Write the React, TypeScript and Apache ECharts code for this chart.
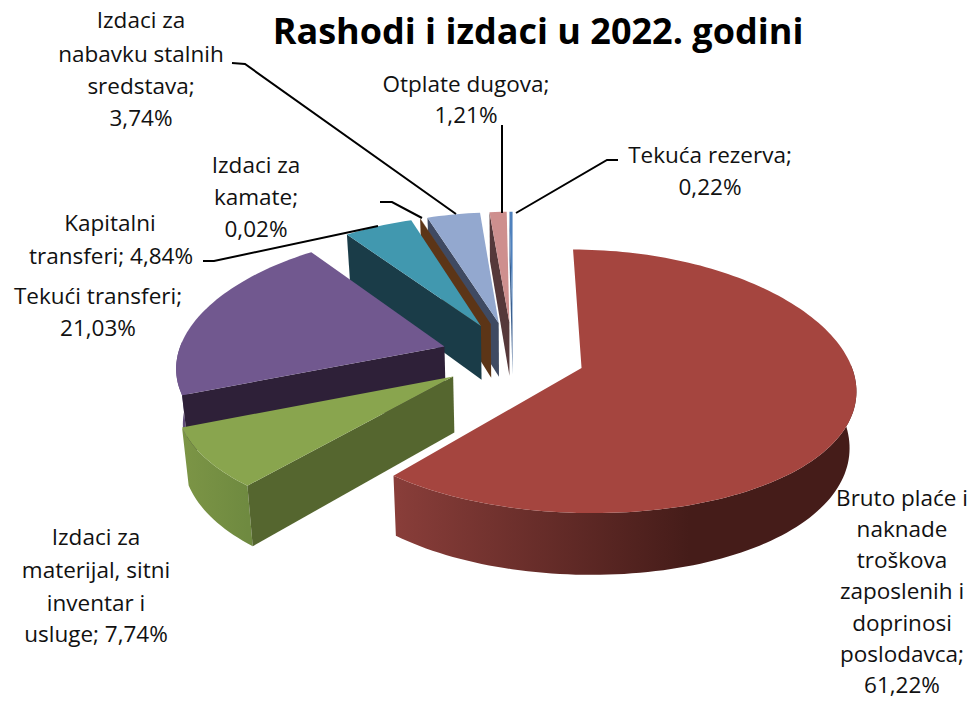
import React, { useEffect, useRef } from "react";
import * as echarts from "echarts";

const titleText = "Rashodi i izdaci u 2022. godini";
const categories = [
  "Bruto plaće i naknade troškova zaposlenih i doprinosi poslodavca",
  "Izdaci za materijal, sitni inventar i usluge",
  "Tekući transferi",
  "Kapitalni transferi",
  "Izdaci za kamate",
  "Izdaci za nabavku stalnih sredstava",
  "Otplate dugova",
  "Tekuća rezerva",
];
const values = [61.22, 7.74, 21.03, 4.84, 0.02, 3.74, 1.21, 0.22];
const topColors = ["#A5453F", "#89A54E", "#71588F", "#4198AF", "#6B3F1A", "#93A8CF", "#CE8F8E", "#4F81BD"];
const cutColors = ["#5A2320", "#55662F", "#2E2038", "#1A3C48", "#5C3517", "#3F4A62", "#55383A", "#3A5F8F"];
const sideFrom = ["#8A3E3A", "#7C9546", "#66507F", "#2F6E80", "#5C3517", "#6C7A9A", "#96696A", "#3A5F8F"];
const sideTo = ["#451C19", "#6F8A40", "#5E4A78", "#245866", "#5C3517", "#5A6785", "#80585A", "#3A5F8F"];
const labelLines: [string, number, number][][] = [
  [["Bruto plaće i", 902, 497], ["naknade", 902, 528], ["troškova", 902, 559], ["zaposlenih i", 902, 590], ["doprinosi", 902, 622], ["poslodavca;", 902, 653], ["61,22%", 902, 684]],
  [["Izdaci za", 96, 536], ["materijal, sitni", 96, 569], ["inventar i", 96, 602], ["usluge; 7,74%", 96, 633]],
  [["Tekući transferi;", 98, 295], ["21,03%", 98, 327]],
  [["Kapitalni", 110, 222], ["transferi; 4,84%", 111, 255]],
  [["Izdaci za", 256, 164], ["kamate;", 256, 196], ["0,02%", 256, 228]],
  [["Izdaci za", 141, 19], ["nabavku stalnih", 141, 53], ["sredstava;", 141, 85], ["3,74%", 141, 117]],
  [["Otplate dugova;", 466, 83], ["1,21%", 466, 114]],
  [["Tekuća rezerva;", 710, 154], ["0,22%", 710, 186]],
];
const leaderLines: number[][][] = [
  [[232, 63], [245, 64], [456, 214]],
  [[502, 125], [502, 213]],
  [[618, 160], [607, 160], [516, 213]],
  [[203, 261], [214, 261], [378, 226]],
  [[380, 202], [392, 202], [422, 218]],
];

const CX = 513, CY = 356, RX = 267, RY = 128, PERSP_X = 0.14, PERSP_Y = 0.1, DEPTH = 55, BOTTOM_SCALE = 0.98, EXPLODE = 0.27, STEP = 1.5;
const FONT = '"Open Sans", sans-serif';

const total = values.reduce((a, b) => a + b, 0);
let acc = 0;
const spans = values.map((v) => {
  const s = (acc / total) * 360;
  acc += v;
  return [s, (acc / total) * 360];
});
const rad = (d: number) => (d * Math.PI) / 180;

function project(X: number, Y: number, Z: number): number[] {
  const sx = 1 / (1 + PERSP_X * Y);
  const sy = 1 / (1 + PERSP_Y * Y);
  const shrink = Z ? BOTTOM_SCALE : 1;
  return [CX + RX * X * sx * shrink, CY - RY * Y * sy + DEPTH * Z * sy];
}

function renderSlice(params: any) {
  const i = order[params.dataIndex];
  const [a0, a1] = spans[i];
  const mid = rad((a0 + a1) / 2);
  const ox = EXPLODE * Math.sin(mid);
  const oy = EXPLODE * Math.cos(mid);
  const top: number[][] = [];
  const sideTop: number[][] = [];
  const sideBottom: number[][] = [];
  let firstBottom: number[] = [];
  const n = Math.max(1, Math.ceil((a1 - a0) / STEP));
  for (let k = 0; k <= n; k++) {
    const a = rad(a0 + ((a1 - a0) * k) / n);
    const X = ox + Math.sin(a);
    const Y = oy + Math.cos(a);
    const t = project(X, Y, 0);
    const b = project(X, Y, 1);
    top.push(t);
    if (k === 0) firstBottom = b;
    if (Math.cos(a) <= 0.05) {
      sideTop.push(t);
      sideBottom.push(b);
    }
  }
  const apexTop = project(ox, oy, 0);
  const apexBottom = project(ox, oy, 1);
  const children: any[] = [];
  if (sideTop.length > 1) {
    const xs = sideTop.map((p) => p[0]);
    const gx0 = i === 0 ? 390 : Math.min(...xs);
    const gx1 = i === 0 ? 690 : Math.max(...xs);
    children.push({
      type: "polygon",
      shape: { points: [...sideTop, ...sideBottom.slice().reverse()] },
      style: {
        fill: new echarts.graphic.LinearGradient(gx0, 0, gx1, 0, [
          { offset: 0, color: sideFrom[i] },
          { offset: 1, color: sideTo[i] },
        ], true),
      },
    });
  }
  if (i !== 0) {
    children.push({
      type: "polygon",
      shape: { points: [apexTop, top[0], firstBottom, apexBottom] },
      style: { fill: cutColors[i] },
    });
  }
  children.push({
    type: "polygon",
    shape: { points: [apexTop, ...top] },
    style: { fill: topColors[i] },
  });
  return { type: "group", children };
}

// back-to-front painting order
const order = values.map((_, i) => values.length - 1 - i);

export default function App() {
  const ref = useRef<HTMLDivElement>(null);
  useEffect(() => {
    const chart = echarts.init(ref.current!, undefined, { renderer: "svg" });
    const graphics: any[] = [];
    leaderLines.forEach((pts) =>
      graphics.push({
        type: "polyline",
        z: 10,
        shape: { points: pts },
        style: { stroke: "#000", lineWidth: 2, fill: "none" },
      })
    );
    labelLines.forEach((lines) =>
      lines.forEach(([text, x, y]) =>
        graphics.push({
          type: "text",
          z: 11,
          x,
          y,
          style: { text, fill: "#111", font: `22.5px ${FONT}`, textAlign: "center", textVerticalAlign: "middle" },
        })
      )
    );
    graphics.push({
      type: "text",
      z: 11,
      x: 538,
      y: 30,
      style: { text: titleText, fill: "#000", font: `bold 36px ${FONT}`, textAlign: "center", textVerticalAlign: "middle" },
    });
    chart.setOption({
      animation: false,
      backgroundColor: "#fff",
      graphic: graphics,
      series: [
        {
          type: "custom",
          coordinateSystem: "none",
          silent: true,
          renderItem: renderSlice,
          data: order.map((i) => ({ name: categories[i], value: values[i] })),
        },
      ],
    });
    return () => chart.dispose();
  }, []);
  return <div ref={ref} style={{ position: "absolute", left: 0, top: 0, width: 975, height: 701 }} />;
}
